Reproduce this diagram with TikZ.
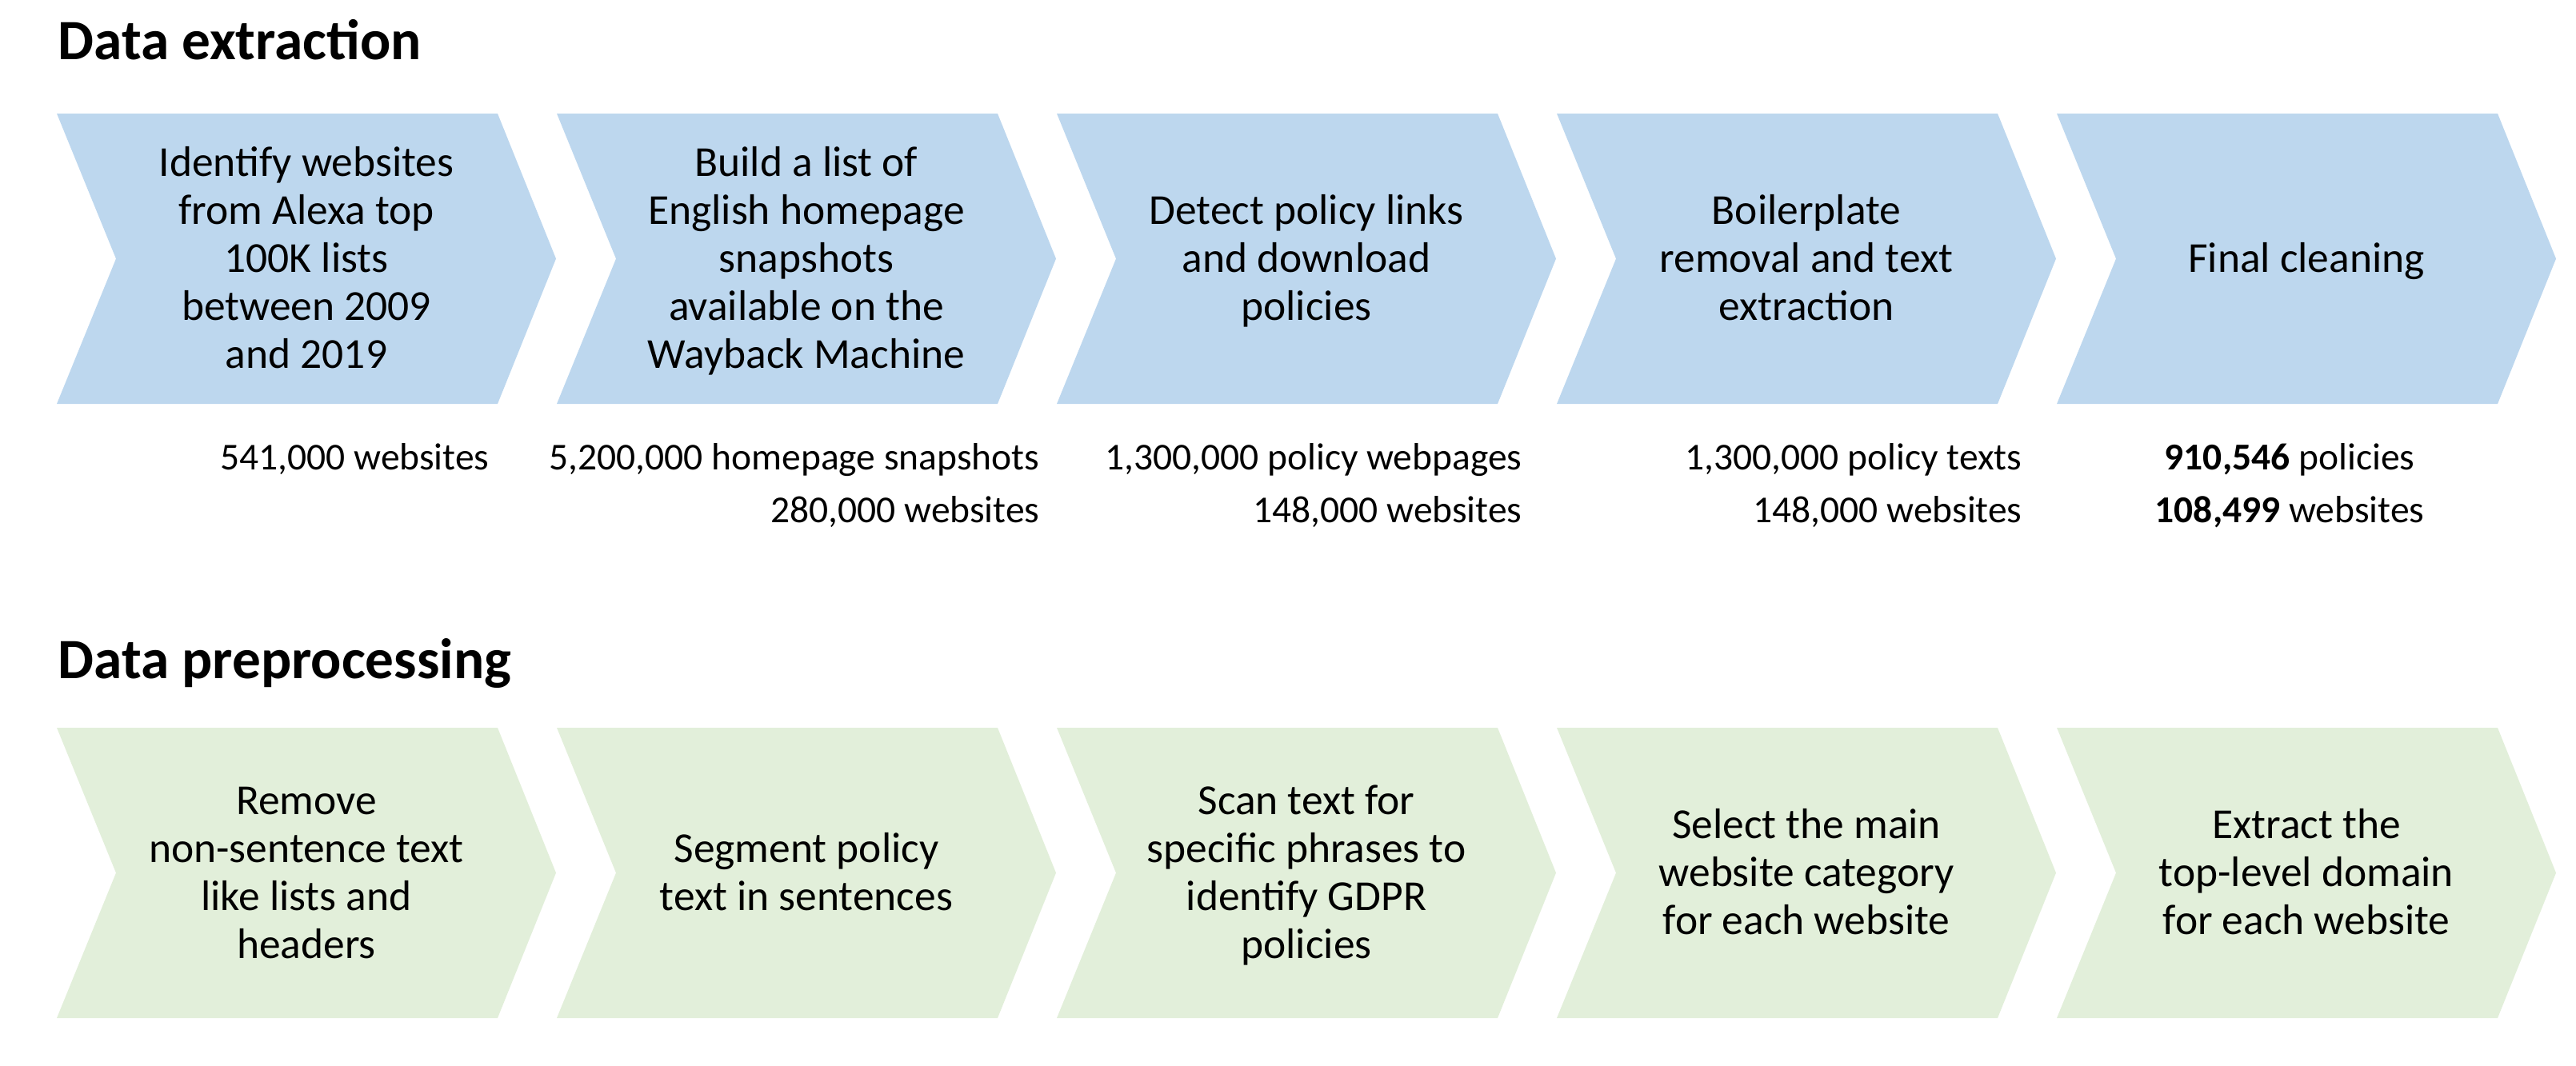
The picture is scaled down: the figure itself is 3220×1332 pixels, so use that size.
\documentclass[tikz,border=0pt]{standalone}
\usepackage{fontspec}
\setmainfont{Carlito}
\definecolor{extractblue}{HTML}{BDD7EE}
\definecolor{prepgreen}{HTML}{E2EFDA}
\begin{document}
\begin{tikzpicture}[x=0.3367pt, y=-0.3367pt,
  heading/.style={anchor=base west, inner sep=0pt, font=\fontsize{24pt}{29pt}\selectfont\bfseries},
  steptext/.style={anchor=base, inner sep=0pt, align=center, font=\fontsize{18pt}{20.2pt}\selectfont},
  countlabel/.style={anchor=base east, inner sep=0pt, font=\fontsize{16pt}{19pt}\selectfont},
  countcentre/.style={anchor=base, inner sep=0pt, font=\fontsize{16pt}{19pt}\selectfont}]
\useasboundingbox (0,0) rectangle (3220,1332);

% chevron outline: left edge, top, bottom, fill colour
\newcommand{\chevronpath}[4]{%
  \fill[#4] (#1,#2) -- ({#1+551},#2) -- ({#1+624},{(#2+#3)/2}) -- ({#1+551},#3)
    -- (#1,#3) -- ({#1+74},{(#2+#3)/2}) -- cycle;}

% step texts are placed by the baseline of their last line

% ---------- Data extraction ----------
\node[heading] (h1) at (72,74) {Data extraction};
\foreach \i in {0,...,4} {\chevronpath{71+625*\i}{142}{505}{extractblue}}

\node[steptext] (e1) at (383,460.5) {Identify websites\\from Alexa top\\100K lists\\between 2009\\and 2019};
\node[steptext] (e2) at (1008,460.5) {Build a list of\\English homepage\\snapshots\\available on the\\Wayback Machine};
\node[steptext] (e3) at (1633,400.5) {Detect policy links\\and download\\policies};
\node[steptext] (e4) at (2258,400.5) {Boilerplate\\removal and text\\extraction};
\node[steptext] (e5) at (2883,340.5) {Final cleaning};

\node[countlabel] (c1a) at (612,587) {541,000 websites};
\node[countlabel] (c2a) at (1300,587) {5,200,000 homepage snapshots};
\node[countlabel] (c2b) at (1300,653) {280,000 websites};
\node[countlabel] (c3a) at (1903,587) {1,300,000 policy webpages};
\node[countlabel] (c3b) at (1903,653) {148,000 websites};
\node[countlabel] (c4a) at (2528,587) {1,300,000 policy texts};
\node[countlabel] (c4b) at (2528,653) {148,000 websites};
\node[countcentre] (c5a) at (2862,587) {\textbf{910,546} policies};
\node[countcentre] (c5b) at (2862,653) {\textbf{108,499} websites};

% ---------- Data preprocessing ----------
\node[heading] (h2) at (72,848) {Data preprocessing};
\foreach \i in {0,...,4} {\chevronpath{71+625*\i}{910}{1273}{prepgreen}}

\node[steptext] (p1) at (383,1198.5) {Remove\\non-sentence text\\like lists and\\headers};
\node[steptext] (p2) at (1008,1138.5) {Segment policy\\text in sentences};
\node[steptext] (p3) at (1633,1198.5) {Scan text for\\specific phrases to\\identify GDPR\\policies};
\node[steptext] (p4) at (2258,1168.5) {Select the main\\website category\\for each website};
\node[steptext] (p5) at (2883,1168.5) {Extract the\\top-level domain\\for each website};
\end{tikzpicture}
\end{document}
